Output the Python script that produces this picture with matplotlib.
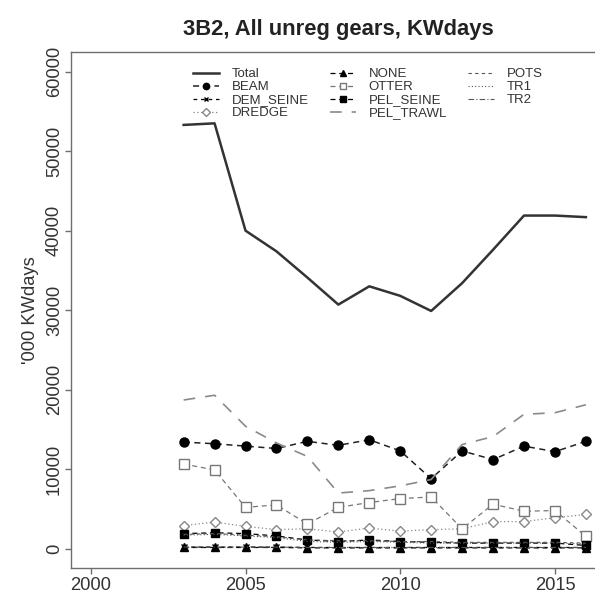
import matplotlib
matplotlib.use("Agg")
import matplotlib.pyplot as plt

plt.rcParams['font.family'] = ['Liberation Sans', 'DejaVu Sans']

# data ('000 KWdays)
years = [2003, 2004, 2005, 2006, 2007, 2008, 2009, 2010, 2011, 2012, 2013, 2014, 2015, 2016]
total = [53300, 53500, 40000, 37400, 34100, 30700, 33000, 31800, 29900, 33400, 37600, 41900, 41900, 41700]
beam = [13400, 13200, 12900, 12600, 13500, 13000, 13700, 12300, 8800, 12300, 11200, 12900, 12200, 13500]
dem_seine = [200, 200, 200, 200, 150, 150, 150, 150, 150, 150, 150, 150, 150, 150]
dredge = [2900, 3350, 2800, 2400, 2500, 2100, 2600, 2200, 2400, 2500, 3400, 3400, 3900, 4300]
none = [150, 150, 150, 150, 100, 100, 100, 100, 100, 100, 100, 100, 100, 100]
otter = [10650, 9900, 5200, 5500, 3100, 5200, 5800, 6300, 6500, 2500, 5600, 4700, 4800, 1550]
pel_seine = [1900, 2000, 1900, 1600, 1100, 900, 1100, 900, 800, 700, 700, 700, 700, 400]
pel_trawl = [18700, 19300, 15400, 13300, 11600, 7000, 7300, 7900, 8700, 13100, 14100, 16900, 17100, 18100]
pots = [1800, 1900, 1700, 1500, 1100, 1000, 1000, 900, 900, 800, 800, 800, 800, 700]
tr1 = [1700, 1800, 1600, 1400, 900, 800, 900, 800, 700, 700, 700, 700, 700, 600]
tr2 = [200, 200, 200, 200, 150, 150, 150, 150, 150, 150, 150, 150, 150, 150]

fig = plt.figure(figsize=(5.95, 5.95), dpi=100)
ax = fig.add_axes([0.1188, 0.0454, 0.8997, 0.8677])

ax.plot(years, total, color='#333333', lw=1.8, label='Total')
ax.plot(years, beam, color='#222222', lw=1.1, ls=(0, (4, 3)), marker='o', ms=6.5,
        mfc='black', mec='black', label='BEAM')
ax.plot(years, dem_seine, color='black', lw=0.9, ls=(0, (3, 3)), marker='x', ms=5,
        label='DEM_SEINE')
ax.plot(years, dredge, color='#888888', lw=0.9, ls=(0, (1, 2)), marker='D', ms=5.5,
        mfc='white', mec='#888888', label='DREDGE')
ax.plot(years, none, color='black', lw=0.9, ls=(0, (4, 3)), marker='^', ms=6,
        mfc='black', mec='black', label='NONE')
ax.plot(years, otter, color='#777777', lw=0.9, ls=(0, (4, 3)), marker='s', ms=6.5,
        mfc='white', mec='#777777', label='OTTER')
ax.plot(years, pel_seine, color='black', lw=0.9, ls=(0, (4, 3)), marker='s', ms=5.5,
        mfc='black', mec='black', label='PEL_SEINE')
ax.plot(years, pel_trawl, color='#8a8a8a', lw=1.2, ls=(0, (7, 6)), label='PEL_TRAWL')
ax.plot(years, pots, color='#555555', lw=0.8, ls=(0, (3, 3)), label='POTS')
ax.plot(years, tr1, color='#555555', lw=0.8, ls=(0, (1, 2)), label='TR1')
ax.plot(years, tr2, color='#555555', lw=0.8, ls=(0, (5, 2, 1, 2)), label='TR2')

ax.set_xlim(1999.35, 2016.65)
ax.set_ylim(-2430, 62510)
ax.set_xticks([2000, 2005, 2010, 2015])
ax.set_yticks([0, 10000, 20000, 30000, 40000, 50000, 60000])

for s in ax.spines.values():
    s.set_color('#6e6e6e')
    s.set_linewidth(1.0)
ax.tick_params(colors='#6e6e6e', labelcolor='#333333', labelsize=13.2,
               length=4.5, width=1.0)
ax.tick_params(axis='x', pad=2)
ax.tick_params(axis='y', pad=1)
for lab in ax.get_yticklabels():
    lab.set_rotation(90)
    lab.set_verticalalignment('center')

ax.set_ylabel("'000 KWdays", fontsize=13.2, color='#333333')
ax.yaxis.label.set_verticalalignment('center')
ax.yaxis.set_label_coords(-0.0742, 0.5)

ax.set_title('3B2, All unreg gears, KWdays', fontsize=15.8, fontweight='bold',
             color='#222222', pad=12)

leg = ax.legend(ncol=3, loc='upper left', bbox_to_anchor=(0.228, 0.968),
                frameon=False, fontsize=9.5, handlelength=1.97, handletextpad=0.98,
                columnspacing=1.6, labelspacing=0.05, markerscale=0.7,
                borderpad=0, borderaxespad=0)
for t in leg.get_texts():
    t.set_color('#333333')

fig.savefig('out.png', dpi=100)
